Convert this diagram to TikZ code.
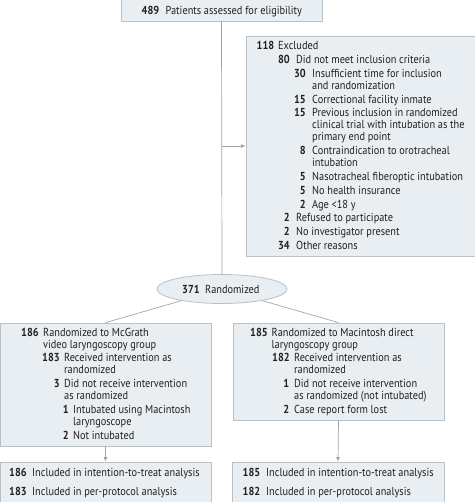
\documentclass[tikz,border=0pt]{standalone}
\usepackage{fontspec}
\setmainfont{PT Sans}[FakeStretch=0.89]
\usetikzlibrary{arrows.meta,shapes.geometric}
\definecolor{boxfill}{HTML}{E8EEF2}
\definecolor{boxline}{HTML}{B9C2C7}
\definecolor{conn}{HTML}{A3A3A3}
\definecolor{ink}{HTML}{231F20}
\newcommand\ent[6]{\node[num] (#1n) at (#2,#4) {#5};\node[txt] (#1t) at (#3,#4) {#6};}
\newcommand\cnt[4]{\node[txt] (#1) at (#2,#3) {#4};}
\begin{document}
\begin{tikzpicture}[x=1pt,y=-1pt,
  box/.style={draw=boxline,fill=boxfill,line width=0.8pt,inner sep=0,rectangle},
  num/.style={anchor=base east,inner sep=0,font=\fontsize{11.6}{12}\selectfont\bfseries,text=ink},
  txt/.style={anchor=base west,inner sep=0,font=\fontsize{11.6}{12}\selectfont,text=ink},
  link/.style={draw=conn,line width=0.7pt},
  arr/.style={link,-{Latex[length=4.5pt,width=4pt]}}]
\useasboundingbox (0,0) rectangle (474,502);
% boxes
\node[box,minimum width=201pt,minimum height=24pt] (top) at (221.5,9) {};
\node[box,minimum width=230pt,minimum height=220pt] (excl) at (361,146) {};
\node[box,minimum width=211pt,minimum height=123pt] (lbox) at (105.5,384.5) {};
\node[box,minimum width=211pt,minimum height=97pt] (rbox) at (338.5,371.5) {};
\node[box,minimum width=211pt,minimum height=43pt] (lbot) at (105.5,483.5) {};
\node[box,minimum width=212pt,minimum height=43pt] (rbot) at (338,483.5) {};
\node[draw=boxline,fill=boxfill,line width=0.8pt,ellipse,minimum width=130pt,minimum height=29pt,inner sep=0] (ell) at (222,289) {};
% connectors
\coordinate (j) at (222,146);
\draw[link] (top.south) -- (ell.north);
\draw[arr] (j) -- (j -| excl.west);
\draw[link] (ell) -- (lbox.north);
\draw[link] (ell) -- (rbox.north);
\draw[arr] (lbox.south) -- (lbot.north);
\draw[arr] (rbox.south) -- (rbot.north);
% top
\ent{a}{159.5}{165.5}{15}{489}{Patients assessed for eligibility}
% excluded
\ent{e1}{274.5}{278}{49.7}{118}{Excluded}
\ent{e2}{290}{296}{63.5}{80}{Did not meet inclusion criteria}
\ent{e3}{306}{312}{77.3}{30}{Insufficient time for inclusion}
\cnt{e3b}{312}{89.3}{and randomization}
\ent{e4}{306}{312}{103.1}{15}{Correctional facility inmate}
\ent{e5}{306}{312}{116.9}{15}{Previous inclusion in randomized}
\cnt{e5b}{312}{128.9}{clinical trial with intubation as the}
\cnt{e5c}{312}{140.9}{primary end point}
\ent{e6}{306}{312}{154.7}{8}{Contraindication to orotracheal}
\cnt{e6b}{312}{166.7}{intubation}
\ent{e7}{306}{312}{180.5}{5}{Nasotracheal fiberoptic intubation}
\ent{e8}{306}{312}{194.3}{5}{No health insurance}
\ent{e9}{306}{312}{208.1}{2}{Age <18 y}
\ent{e10}{290}{296}{221.9}{2}{Refused to participate}
\ent{e11}{290}{296}{235.7}{2}{No investigator present}
\ent{e12}{290}{296}{249.5}{34}{Other reasons}
% ellipse
\ent{r}{200}{205}{293}{371}{Randomized}
% left group
\ent{l1}{39}{43}{336}{186}{Randomized to McGrath}
\cnt{l1b}{43}{348}{video laryngoscopy group}
\ent{l2}{60}{64}{361.8}{183}{Received intervention as}
\cnt{l2b}{64}{373.8}{randomized}
\ent{l3}{60}{64}{387.6}{3}{Did not receive intervention}
\cnt{l3b}{64}{399.6}{as randomized}
\ent{l4}{69}{73}{413.4}{1}{Intubated using Macintosh}
\cnt{l4b}{73}{425.4}{laryngoscope}
\ent{l5}{69}{73}{439.2}{2}{Not intubated}
% right group
\ent{q1}{268}{271.5}{336}{185}{Randomized to Macintosh direct}
\cnt{q1b}{271.5}{348}{laryngoscopy group}
\ent{q2}{290}{294}{361.8}{182}{Received intervention as}
\cnt{q2b}{294}{373.8}{randomized}
\ent{q3}{289.5}{294}{387.6}{1}{Did not receive intervention}
\cnt{q3b}{294}{399.6}{as randomized (not intubated)}
\ent{q4}{289.5}{294}{413.4}{2}{Case report form lost}
% bottom
\ent{b1}{27}{32}{476}{186}{Included in intention-to-treat analysis}
\ent{b2}{27}{32}{495}{183}{Included in per-protocol analysis}
\ent{b3}{260.5}{266}{476}{185}{Included in intention-to-treat analysis}
\ent{b4}{260.5}{266}{495}{182}{Included in per-protocol analysis}
\end{tikzpicture}
\end{document}
